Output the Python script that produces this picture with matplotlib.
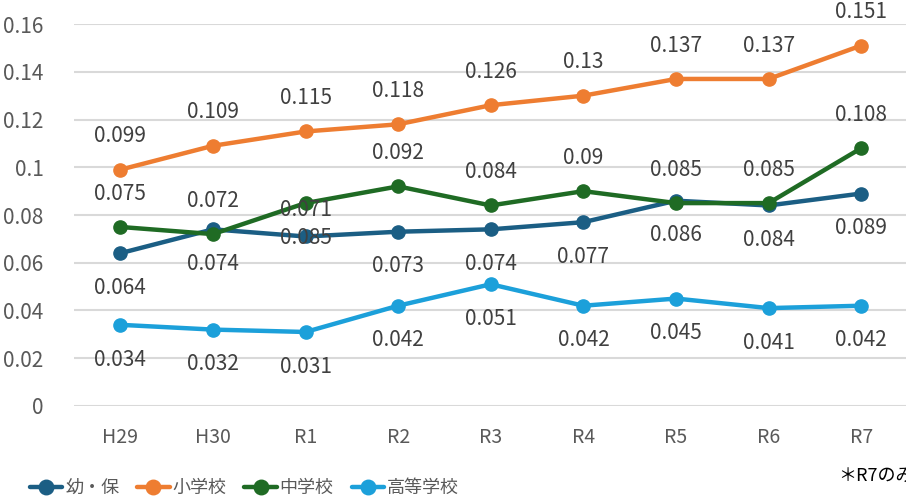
import matplotlib
matplotlib.use('Agg')
import matplotlib.pyplot as plt

plt.rcParams['font.family'] = ['Noto Sans CJK JP', 'DejaVu Sans']

years = ['H29', 'H30', 'R1', 'R2', 'R3', 'R4', 'R5', 'R6', 'R7']
series_names = ['幼・保', '小学校', '中学校', '高等学校']
youho = [0.064, 0.074, 0.071, 0.073, 0.074, 0.077, 0.086, 0.084, 0.089]
shogakko = [0.099, 0.109, 0.115, 0.118, 0.126, 0.13, 0.137, 0.137, 0.151]
chugakko = [0.075, 0.072, 0.085, 0.092, 0.084, 0.09, 0.085, 0.085, 0.108]
koko = [0.034, 0.032, 0.031, 0.042, 0.051, 0.042, 0.045, 0.041, 0.042]
# R1 labels are swapped in the original chart
label_text = {
    '幼・保': ['0.064', '0.074', '0.071', '0.073', '0.074', '0.077', '0.086', '0.084', '0.089'],
    '小学校': ['0.099', '0.109', '0.115', '0.118', '0.126', '0.13', '0.137', '0.137', '0.151'],
    '中学校': ['0.075', '0.072', '0.085', '0.092', '0.084', '0.09', '0.085', '0.085', '0.108'],
    '高等学校': ['0.034', '0.032', '0.031', '0.042', '0.051', '0.042', '0.045', '0.041', '0.042'],
}

colors = ['#1b5e84', '#ee7d31', '#1f6b24', '#1ca0da']
# vertical label offset in points (positive = above)
offsets = [-25, 24, 24, -25]

fig = plt.figure(figsize=(9.06, 4.96), dpi=100)
ax = fig.add_axes([0.0817, 0.1815, 0.92, 0.770])

x = list(range(len(years)))
all_vals = [youho, shogakko, chugakko, koko]
for vals, name, c, off in zip(all_vals, series_names, colors, offsets):
    ax.plot(x, vals, color=c, lw=3.2, marker='o', ms=9.5, label=name,
            clip_on=False, solid_capstyle='round')
    for i, v in enumerate(vals):
        o = off
        if i == 2 and name == '幼・保':
            o = 19
        if i == 2 and name == '中学校':
            o = -25
        ax.annotate(label_text[name][i], (i, v), xytext=(0, o),
                    textcoords='offset points', ha='center', va='center',
                    fontsize=15, color='#404040')

ax.set_xlim(-0.5, len(years) - 0.5)
ax.set_ylim(0, 0.16)
ax.set_yticks([0, 0.02, 0.04, 0.06, 0.08, 0.1, 0.12, 0.14, 0.16])
ax.set_yticklabels(['0', '0.02', '0.04', '0.06', '0.08', '0.1', '0.12', '0.14', '0.16'])
ax.set_xticks(x)
ax.set_xticklabels(years)
ax.grid(axis='y', color='#d9d9d9', lw=1.5)
ax.set_axisbelow(True)
for s in ax.spines.values():
    s.set_visible(False)
ax.tick_params(axis='y', length=0, pad=22, labelsize=15, labelcolor='#595959')
ax.tick_params(axis='x', length=0, pad=15, labelsize=14, labelcolor='#595959')

fig.legend(loc='lower left', bbox_to_anchor=(0.015, -0.035), ncol=4, frameon=False,
           fontsize=13, handlelength=1.8, handletextpad=0.15, columnspacing=1.0,
           markerscale=1.1, labelcolor='#595959')
fig.text(0.925, 0.03, '＊R7のみ速報値', fontsize=13, color='#000000')

fig.savefig('out.png', dpi=100)
